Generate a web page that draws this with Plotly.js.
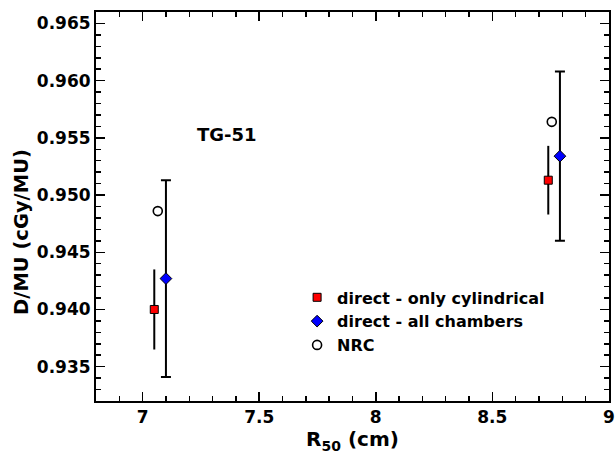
<!DOCTYPE html>
<html>
<head>
<meta charset="utf-8">
<script src="https://cdn.plot.ly/plotly-3.0.1.min.js"></script>
<style>html,body{margin:0;padding:0;background:#fff;}#chart{width:616px;height:454px;}</style>
</head>
<body>
<div id="chart"></div>
<script>
// R50 (cm) positions
const cylR50 = [7.05, 8.74];
const cylDose = [0.9400, 0.9513];
const cylErr = [0.0035, 0.0030];

const allR50 = [7.10, 8.79];
const allDose = [0.9427, 0.9534];
const allErr = [0.0086, 0.0074];

const nrcR50 = [7.065, 8.755];
const nrcDose = [0.9486, 0.9564];

const seriesNames = ["direct - only cylindrical", "direct - all chambers", "NRC"];
const xTickVals = [7, 7.5, 8, 8.5, 9];
const xTickText = ["7", "7.5", "8", "8.5", "9"];
const annotationText = "TG-51";
const yTitleText = "D/MU (cGy/MU)";

const FONT = "DejaVu Sans, sans-serif";

const traces = [
  {
    x: cylR50, y: cylDose, name: seriesNames[0], type: "scatter", mode: "markers",
    marker: {symbol: "square", size: 8, color: "#ff0000", line: {color: "#000", width: 1}},
    error_y: {type: "data", array: cylErr, visible: true, color: "#000", thickness: 2, width: 0}
  },
  {
    x: allR50, y: allDose, name: seriesNames[1], type: "scatter", mode: "markers",
    marker: {symbol: "diamond", size: 9, color: "#0000ff", line: {color: "#000", width: 1}},
    error_y: {type: "data", array: allErr, visible: true, color: "#000", thickness: 2, width: 5}
  },
  {
    x: nrcR50, y: nrcDose, name: seriesNames[2], type: "scatter", mode: "markers",
    marker: {symbol: "circle-open", size: 9, color: "#000", line: {color: "#000", width: 1.6}}
  }
];

const axisCommon = {
  showline: true, linecolor: "#000", linewidth: 2, mirror: "ticks",
  ticks: "inside", ticklen: 9, tickwidth: 1.5, tickcolor: "#000",
  showgrid: false, zeroline: false, ticklabeloverflow: "allow",
  tickfont: {family: FONT, size: 17, color: "#000", weight: "bold"}
};

const layout = {
  width: 616, height: 454,
  margin: {l: 96, r: 7, t: 12, b: 53},
  paper_bgcolor: "#fff", plot_bgcolor: "#fff",
  font: {family: FONT, color: "#000"},
  xaxis: Object.assign({}, axisCommon, {
    range: [6.8, 9.0005], tickmode: "array", tickvals: xTickVals, ticktext: xTickText,
    minor: {dtick: 0.1, tick0: 7, ticks: "inside", ticklen: 5, tickwidth: 1.5, tickcolor: "#000", showgrid: false},
    title: {text: "R<sub>50</sub> (cm)", font: {family: FONT, size: 20, color: "#000", weight: "bold"}, standoff: 2}
  }),
  yaxis: Object.assign({}, axisCommon, {
    range: [0.932, 0.966], tick0: 0.935, dtick: 0.005, tickformat: ".3f",
    minor: {dtick: 0.001, ticks: "inside", ticklen: 5, tickwidth: 1.5, tickcolor: "#000", showgrid: false}
  }),
  showlegend: true,
  legend: {
    x: 0.392, y: 0.31, xanchor: "left", yanchor: "top",
    bgcolor: "rgba(0,0,0,0)", borderwidth: 0,
    font: {family: FONT, size: 16, color: "#000", weight: "bold"},
    tracegroupgap: 0
  },
  annotations: [
    {
      x: 7.36, y: 0.95525, xref: "x", yref: "y", text: annotationText, showarrow: false,
      font: {family: FONT, size: 18, color: "#000", weight: "bold"}
    },
    {
      x: -0.144, y: 0.435, xref: "paper", yref: "paper", text: yTitleText, showarrow: false,
      textangle: -90, xanchor: "center", yanchor: "middle",
      font: {family: FONT, size: 19.5, color: "#000", weight: "bold"}
    }
  ]
};

Plotly.newPlot("chart", traces, layout, {displayModeBar: false, staticPlot: true});
</script>
</body>
</html>
